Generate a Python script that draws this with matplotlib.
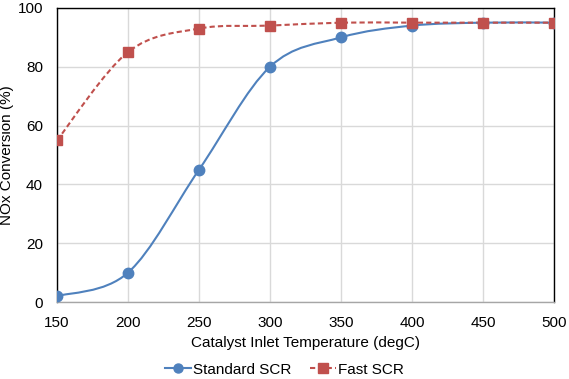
import numpy as np
import matplotlib.pyplot as plt
from matplotlib.path import Path
from matplotlib.patches import PathPatch
from matplotlib.lines import Line2D

plt.rcParams['font.family'] = ['Liberation Sans', 'DejaVu Sans']

temps = [150, 200, 250, 300, 350, 400, 450, 500]
standard_scr = [2, 10, 45, 80, 90, 94, 95, 95]
fast_scr = [55, 85, 93, 94, 95, 95, 95, 95]

BLUE = '#4F81BD'
RED = '#C0504D'
DASH = (0, (2.5, 1.5))


def smooth_path(x, y):
    # Excel-style smoothed line: cubic Bezier segments (Catmull-Rom control points)
    x = np.asarray(x, float)
    y = np.asarray(y, float)
    n = len(x)
    verts = [(x[0], y[0])]
    codes = [Path.MOVETO]
    for i in range(n - 1):
        p0 = i - 1 if i > 0 else i
        p3 = i + 2 if i + 2 < n else i + 1
        c1 = (x[i] + (x[i + 1] - x[p0]) / 6, y[i] + (y[i + 1] - y[p0]) / 6)
        c2 = (x[i + 1] - (x[p3] - x[i]) / 6, y[i + 1] - (y[p3] - y[i]) / 6)
        verts += [c1, c2, (x[i + 1], y[i + 1])]
        codes += [Path.CURVE4] * 3
    return Path(verts, codes)


fig = plt.figure(figsize=(5.69, 3.79), dpi=100)
ax = fig.add_axes([0.1002, 0.203, 0.8734, 0.776])

ax.add_patch(PathPatch(smooth_path(temps, standard_scr), fill=False,
                       edgecolor=BLUE, lw=1.5, zorder=3))
ax.add_patch(PathPatch(smooth_path(temps, fast_scr), fill=False,
                       edgecolor=RED, lw=1.5, ls=DASH, zorder=3))
ax.plot(temps, standard_scr, 'o', color=BLUE, ms=7.5, zorder=4)
ax.plot(temps, fast_scr, 's', color=RED, ms=7.5, zorder=5)

ax.set_xlim(150, 500)
ax.set_ylim(0, 100)
ax.set_xticks(range(150, 501, 50))
ax.set_yticks(range(0, 101, 20))
ax.grid(True, color='#D9D9D9', lw=1)
ax.set_axisbelow(True)
for s in ax.spines.values():
    s.set_color('black')
    s.set_linewidth(1)
ax.spines['bottom'].set_color('#A6A6A6')
ax.tick_params(length=0, labelsize=11, pad=10)
ax.set_xlabel('Catalyst Inlet Temperature (degC)', fontsize=11, labelpad=4)
ax.set_ylabel('NOx Conversion (%)', fontsize=11)
ax.yaxis.set_label_coords(-0.0865, 0.5)

handles = [
    Line2D([], [], color=BLUE, lw=1.5, marker='o', ms=6.5),
    Line2D([], [], color=RED, lw=1.5, ls=DASH, marker='s', ms=6.5),
]
fig.legend(handles, ['Standard SCR', 'Fast SCR'], loc='center',
           bbox_to_anchor=(0.5, 0.025), ncol=2, frameon=False, fontsize=11,
           handlelength=1.7, columnspacing=1.2, handletextpad=0.15)

fig.savefig('out.png', dpi=100)
